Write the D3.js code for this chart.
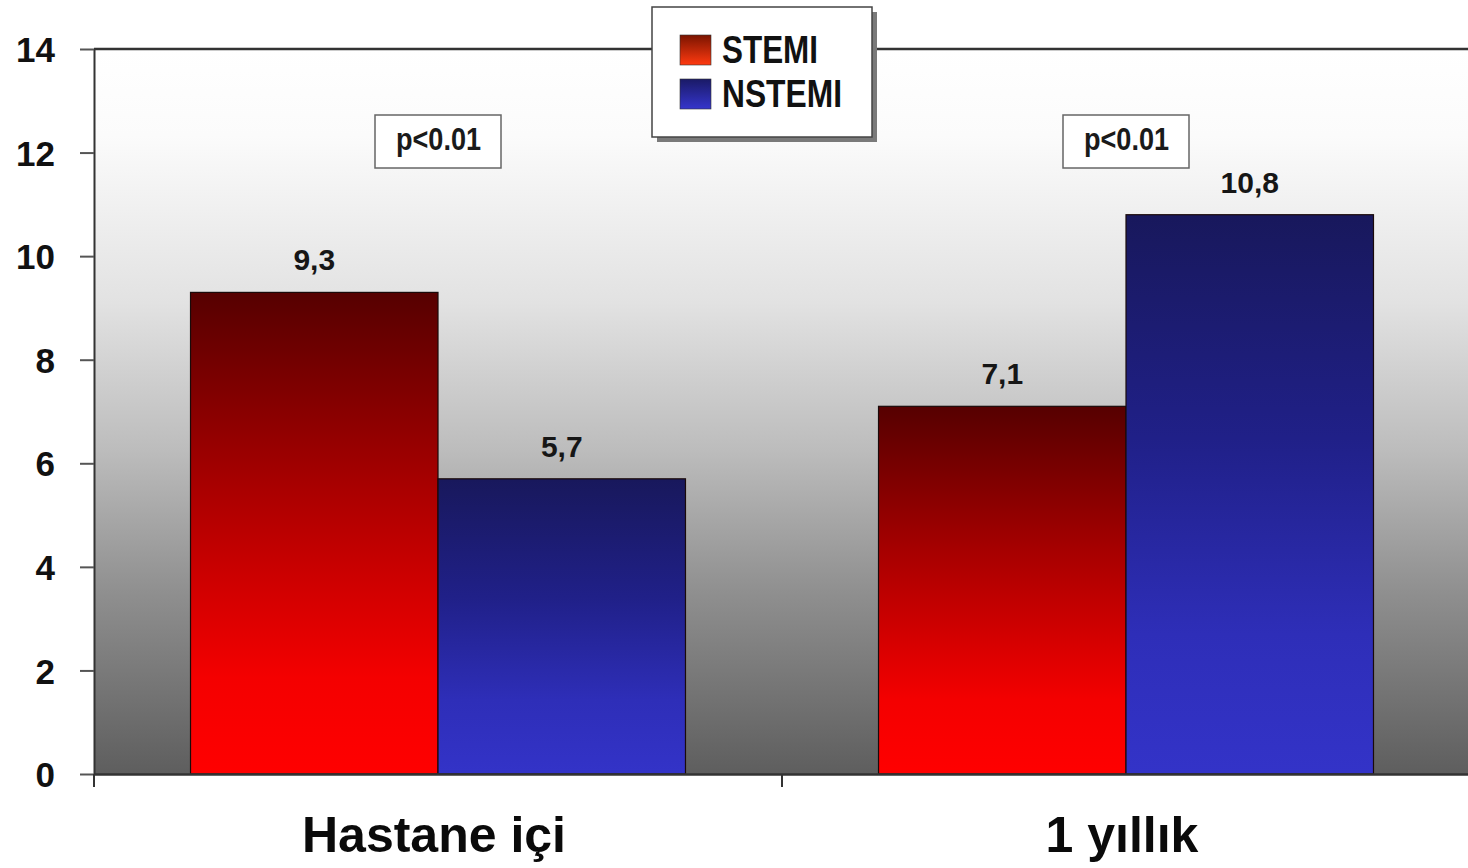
<!DOCTYPE html>
<html><head><meta charset="utf-8">
<script src="https://cdn.jsdelivr.net/npm/d3@7"></script>
<style>html,body{margin:0;padding:0;background:#fff;}svg{display:block;font-family:"Liberation Sans",Arial,sans-serif;}</style>
</head><body>
<svg id="c" width="1468" height="868"></svg>
<script>
const categories = ["Hastane içi", "1 yıllık"];
const seriesNames = ["STEMI", "NSTEMI"];
const stemiValues = [9.3, 7.1];
const nstemiValues = [5.7, 10.8];
const valueLabels = [["9,3", "5,7"], ["7,1", "10,8"]];
const pLabels = ["p<0.01", "p<0.01"];
const yTicks = [0, 2, 4, 6, 8, 10, 12, 14];

(function () {
const svg = d3.select("#c");
const pLeft = 94, pRight = 1470, pTop = 49, pBottom = 774;
const defs = svg.append("defs");

function grad(id, stops) {
  const g = defs.append("linearGradient").attr("id", id).attr("x1", 0).attr("y1", 0).attr("x2", 0).attr("y2", 1);
  stops.forEach(s => g.append("stop").attr("offset", s[0]).attr("stop-color", s[1]));
}
grad("bg", [[0, "#ffffff"], [0.12, "#fbfbfb"], [0.35, "#e2e2e2"], [0.55, "#bdbdbd"], [0.75, "#8f8f8f"], [1, "#5e5e5e"]]);
grad("red", [[0, "#560000"], [0.4, "#a80000"], [0.8, "#f40000"], [1, "#ff0000"]]);
grad("blue", [[0, "#18185c"], [0.4, "#202088"], [0.75, "#2e2eb8"], [1, "#3333c8"]]);
grad("lred", [[0, "#7a1400"], [1, "#ff3a10"]]);
grad("lblue", [[0, "#1a1a66"], [1, "#3535cc"]]);

const y = d3.scaleLinear().domain([0, 14]).range([pBottom, pTop]);
const x0 = d3.scaleBand().domain(categories).range([pLeft, pRight]).paddingInner(0).paddingOuter(0);
const x1 = d3.scaleBand().domain(seriesNames).range([0, x0.bandwidth()]).paddingInner(0).paddingOuter(0.39);

svg.append("rect").attr("x", pLeft).attr("y", pTop).attr("width", pRight - pLeft).attr("height", pBottom - pTop).attr("fill", "url(#bg)");

const data = categories.map((c, i) => ({ cat: c, vals: [stemiValues[i], nstemiValues[i]], labels: valueLabels[i] }));
const g = svg.append("g");
data.forEach(d => {
  seriesNames.forEach((s, j) => {
    const v = d.vals[j];
    const bx = x0(d.cat) + x1(s);
    g.append("rect").attr("x", bx).attr("y", y(v)).attr("width", x1.bandwidth()).attr("height", y(0) - y(v))
      .attr("fill", j === 0 ? "url(#red)" : "url(#blue)").attr("stroke", "#1a0a0a").attr("stroke-width", 1.2);
    g.append("text").attr("x", bx + x1.bandwidth() / 2).attr("y", y(v) - 22)
      .attr("text-anchor", "middle").attr("font-size", 30).attr("font-weight", "bold").attr("fill", "#161616")
      .text(d.labels[j]);
  });
});

const yAxis = d3.axisLeft(y).tickValues(yTicks).tickSize(14).tickSizeOuter(0).tickPadding(25);
const ya = svg.append("g").attr("transform", `translate(${pLeft},0)`).call(yAxis);
ya.select(".domain").attr("stroke", "#333").attr("stroke-width", 2);
ya.selectAll(".tick line").attr("stroke", "#555").attr("stroke-width", 2);
ya.selectAll(".tick text").attr("font-size", 35).attr("font-weight", "bold").attr("fill", "#111")
  .attr("font-family", '"Liberation Sans",Arial,sans-serif').attr("dy", "0.36em");

const xAxis = d3.axisBottom(x0).tickSize(13).tickSizeOuter(0).tickFormat("");
const xa = svg.append("g").attr("transform", `translate(0,${pBottom})`).call(xAxis);
xa.select(".domain").attr("stroke", "#333").attr("stroke-width", 2.5);
xa.selectAll(".tick").remove();
const bounds = [pLeft, x0(categories[1])];
bounds.forEach(bx => svg.append("line").attr("x1", bx).attr("x2", bx).attr("y1", pBottom).attr("y2", pBottom + 13).attr("stroke", "#333").attr("stroke-width", 2));

svg.append("line").attr("x1", pLeft).attr("x2", 1468).attr("y1", pTop).attr("y2", pTop).attr("stroke", "#333").attr("stroke-width", 2.5);

categories.forEach(c => {
  svg.append("text").attr("x", x0(c) + x0.bandwidth() / 2 - 4).attr("y", 852).attr("text-anchor", "middle")
    .attr("font-size", 50).attr("font-weight", "bold").attr("fill", "#0a0a0a").text(c);
});

categories.forEach((c, i) => {
  const cx = x0(c) + x0.bandwidth() / 2;
  const bw = 126, bh = 53, by = 115;
  svg.append("rect").attr("x", cx - bw / 2).attr("y", by).attr("width", bw).attr("height", bh)
    .attr("fill", "#fff").attr("stroke", "#666").attr("stroke-width", 1.5);
  svg.append("text").attr("x", cx - 42).attr("y", by + 35).attr("font-size", 31).attr("font-weight", "bold")
    .attr("fill", "#1a1a1a").attr("textLength", 85).attr("lengthAdjust", "spacingAndGlyphs").text(pLabels[i]);
});

const lx = 652, ly = 7, lw = 220, lh = 130;
svg.append("rect").attr("x", lx + 5).attr("y", ly + 5).attr("width", lw).attr("height", lh).attr("fill", "#7a7a7a");
svg.append("rect").attr("x", lx).attr("y", ly).attr("width", lw).attr("height", lh).attr("fill", "#fff").attr("stroke", "#444").attr("stroke-width", 1.5);
const legendFills = ["url(#lred)", "url(#lblue)"];
const legendWidths = [96, 120];
seriesNames.forEach((s, j) => {
  const sy = 35 + j * 44;
  svg.append("rect").attr("x", 680).attr("y", sy).attr("width", 31).attr("height", 30).attr("fill", legendFills[j]).attr("stroke", "#333").attr("stroke-width", 0.6);
  svg.append("text").attr("x", 722).attr("y", sy + 28).attr("font-size", 38).attr("font-weight", "bold").attr("fill", "#111")
    .attr("textLength", legendWidths[j]).attr("lengthAdjust", "spacingAndGlyphs").text(s);
});
})();
</script>
</body></html>
